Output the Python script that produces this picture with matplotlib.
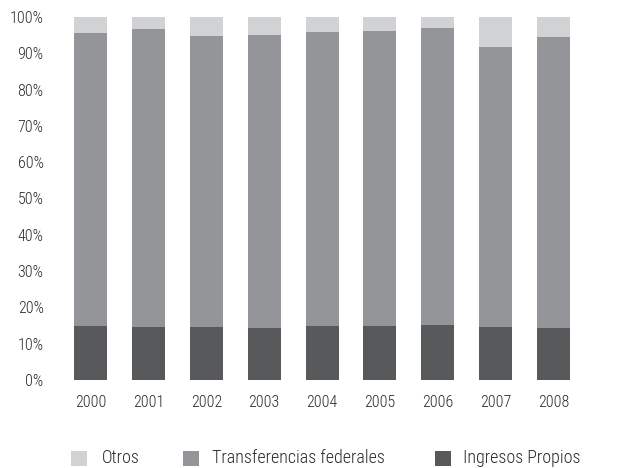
import matplotlib.pyplot as plt
from matplotlib.patches import Rectangle
import numpy as np

# ─── Data (percent shares) ───────────────────────────────────────────────────
years = ["2000", "2001", "2002", "2003", "2004", "2005", "2006", "2007", "2008"]
ingresos_propios = [14.9, 14.6, 14.6, 14.3, 14.9, 14.9, 15.2, 14.6, 14.3]
transferencias_top = [95.6, 96.7, 94.8, 95.0, 95.9, 96.1, 97.0, 91.7, 94.5]
legend_labels = ["Otros", "Transferencias federales", "Ingresos Propios"]

ingresos = np.array(ingresos_propios)
transfer = np.array(transferencias_top) - ingresos
otros = 100 - np.array(transferencias_top)

c_otros = "#d1d2d4"
c_transf = "#939598"
c_ingr = "#58595b"
txt_color = "#2b2b2b"
plt.rcParams["font.family"] = ["Roboto Condensed", "DejaVu Sans"]
plt.rcParams["font.weight"] = "light"

W, H = 636, 468
fig = plt.figure(figsize=(W / 100, H / 100), dpi=100)
ax = fig.add_axes([61.6 / W, (H - 380) / H, 520.9 / W, 363 / H])

x = np.arange(len(years))
w = 0.57
ax.bar(x, ingresos, w, color=c_ingr)
ax.bar(x, transfer, w, bottom=ingresos, color=c_transf)
ax.bar(x, otros, w, bottom=ingresos + transfer, color=c_otros)

ax.set_xlim(-0.5, len(years) - 0.5)
ax.set_ylim(0, 100)
ax.set_xticks(x)
ax.set_xticklabels(years, fontsize=11.5, color=txt_color)
ax.set_yticks(np.arange(0, 101, 10))
ax.set_yticklabels([f"{v}%" for v in range(0, 101, 10)], fontsize=11.5, color=txt_color)
ax.tick_params(length=0)
ax.tick_params(axis="y", pad=13)
ax.tick_params(axis="x", pad=11)
for s in ax.spines.values():
    s.set_visible(False)

# legend drawn by hand to match the spacing of the original
sq_left = [71, 183, 435]
txt_left = [102, 212, 463]
for lab, col, sx, tx in zip(legend_labels, [c_otros, c_transf, c_ingr], sq_left, txt_left):
    fig.add_artist(Rectangle((sx / W, (H - 466) / H), 16 / W, 15 / H,
                             transform=fig.transFigure, color=col, lw=0))
    fig.text(tx / W, (H - 458) / H, lab, fontsize=13, color=txt_color,
             ha="left", va="center")

fig.savefig("out.png", dpi=100)
